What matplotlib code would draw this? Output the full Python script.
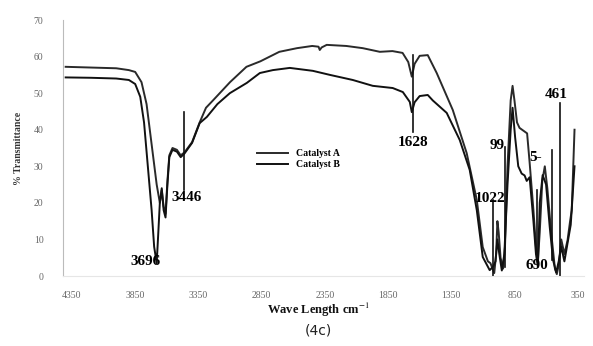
import matplotlib.pyplot as plt

plt.rcParams['font.family'] = ['Liberation Serif', 'DejaVu Serif']
plt.rcParams['mathtext.fontset'] = 'stix'

# Catalyst A (upper trace)
wn_a = [4400, 4200, 4000, 3900, 3850, 3800, 3760, 3720, 3680, 3655, 3640, 3625, 3610,
        3595, 3580, 3555, 3520, 3490, 3460, 3400, 3340, 3290, 3235, 3100, 2970, 2860,
        2710, 2570, 2450, 2400, 2390, 2375, 2335, 2180, 2050, 1915, 1815, 1735, 1690,
        1662, 1640, 1600, 1536, 1465, 1338, 1228, 1148, 1101, 1060, 1040, 1010, 995,
        985, 975, 960, 940, 925, 905, 880, 865, 850, 830, 810, 790, 770, 750, 730, 700,
        680, 665, 650, 630, 610, 590, 560, 530, 515, 500, 480, 455, 430, 410, 397, 385, 375]
tr_a = [57.2, 57.0, 56.8, 56.3, 55.8, 53.0, 47.0, 36.0, 25.0, 20.0, 23.5, 19.0, 17.0,
        26.0, 33.0, 35.0, 34.5, 33.0, 33.8, 36.6, 42.0, 46.0, 48.0, 53.0, 57.2, 58.7,
        61.3, 62.3, 62.9, 62.7, 61.8, 62.5, 63.2, 62.9, 62.3, 61.3, 61.5, 61.0, 58.5,
        54.5, 58.0, 60.2, 60.4, 55.5, 45.4, 33.6, 20.8, 7.9, 4.0, 3.5, 0.8, 6.0,
        15.0, 12.0, 5.0, 2.0, 8.0, 30.0, 48.0, 52.0, 48.0, 42.0, 40.5, 40.0, 39.5, 39.0, 31.0, 18.0,
        8.0, 4.0, 12.0, 26.0, 30.0, 24.0, 12.0, 2.0, 0.5, 3.0, 10.0, 6.0, 9.8, 15.0, 18.0, 30.0, 40.0]

# Catalyst B (lower trace)
wn_b = [4400, 4200, 4000, 3900, 3850, 3810, 3780, 3750, 3720, 3700, 3680, 3670, 3655,
        3640, 3625, 3610, 3595, 3580, 3555, 3520, 3490, 3460, 3400, 3340, 3283, 3200,
        3101, 2967, 2864, 2761, 2627, 2445, 2311, 2129, 1971, 1813, 1733, 1678, 1662,
        1640, 1600, 1536, 1496, 1386, 1283, 1204, 1148, 1101, 1046, 1020, 1000, 985,
        970, 950, 930, 905, 880, 865, 845, 820, 793, 770, 753, 730, 700, 680, 665, 650,
        627, 600, 571, 545, 520, 500, 480, 455, 430, 405, 390, 375]
tr_b = [54.3, 54.2, 54.0, 53.6, 52.5, 49.0, 42.0, 30.0, 18.0, 8.0, 3.5, 10.0, 20.0,
        24.0, 18.0, 16.0, 25.0, 32.5, 34.5, 34.0, 32.5, 33.5, 36.4, 41.8, 43.5, 47.0,
        50.0, 52.8, 55.5, 56.3, 56.9, 56.1, 55.0, 53.6, 52.0, 51.4, 50.3, 47.6, 44.8,
        47.5, 49.2, 49.5, 48.0, 44.6, 37.2, 29.0, 18.0, 5.2, 1.6, 2.5, 4.0, 10.0,
        6.0, 1.5, 6.0, 25.0, 40.0, 46.0, 38.0, 30.0, 28.0, 27.5, 26.0, 27.0, 15.0, 6.0, 2.5, 20.0,
        27.6, 25.0, 13.4, 4.4, 1.0, 4.0, 8.0, 4.0, 9.0, 14.0, 22.0, 30.0]

# peak labels: text, label x, label y, marker x, marker y0, marker y1
peaks = [
    ('3696', 3765, 4.0, None, None, None),
    ('3446', 3440, 21.6, 3465, 23.5, 44.8),
    ('1628', 1654, 36.4, 1654, 39.4, 60.4),
    ('1022', 1046, 21.3, 1022, -1.0, 20.8),
    ('99', 985, 35.8, 927, 2.5, 35.3),
    ('5-', 680, 32.3, 556, 4.4, 34.5),
    ('690', 674, 3.0, 674, 5.5, 23.5),
    ('461', 516, 49.5, 492, -1.0, 47.3),
]

xticks = [4350, 3850, 3350, 2850, 2350, 1850, 1350, 850, 350]
yticks = [0, 10, 20, 30, 40, 50, 60, 70]

fig = plt.figure(figsize=(5.93, 3.46), dpi=100)
ax = fig.add_axes([63 / 593, 70 / 346, 521 / 593, 256 / 346])

ax.plot(wn_a, tr_a, color='#2a2a2a', lw=1.4, label='Catalyst A')
ax.plot(wn_b, tr_b, color='#111111', lw=1.4, label='Catalyst B')

for txt, lx, ly, mx, y0, y1 in peaks:
    if mx is not None:
        ax.plot([mx, mx], [y0, y1], color='#111111', lw=1.2)
    ax.text(lx, ly, txt, fontsize=11, ha='center', va='center', color='#000000',
            fontweight='semibold')

ax.set_xlim(4421, 300)
ax.set_ylim(0, 70)
ax.set_xticks(xticks)
ax.set_yticks(yticks)
ax.tick_params(length=0, labelsize=7, colors='#666666')
ax.tick_params(axis='x', pad=11)
ax.tick_params(axis='y', pad=14)

for s in ['top', 'right']:
    ax.spines[s].set_visible(False)
ax.spines['left'].set_color('#bbbbbb')
ax.spines['left'].set_linewidth(0.8)
ax.spines['bottom'].set_color('#e6e6e6')
ax.spines['bottom'].set_linewidth(0.8)

ax.set_ylabel('% Transmittance', fontsize=7, fontweight='bold', color='#333333', labelpad=8)
ax.legend(loc='upper left', bbox_to_anchor=(0.355, 0.53), frameon=False,
          handlelength=3.2, labelspacing=0.2, prop={'weight': 'bold', 'size': 7})

fig.text(318 / 593, 1 - 310 / 346, 'Wave Length cm$^{-1}$', fontsize=9, fontweight='bold',
         ha='center', va='center', color='#111111')
fig.text(318 / 593, 1 - 330 / 346, '(4c)', fontsize=10, ha='center', va='center',
         family='DejaVu Sans', color='#222222')

fig.savefig('out.png', dpi=100)
